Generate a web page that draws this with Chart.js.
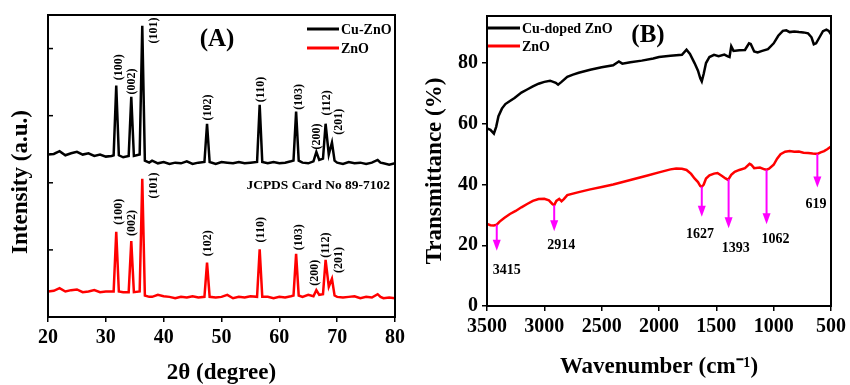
<!DOCTYPE html>
<html>
<head>
<meta charset="utf-8">
<title>XRD and FTIR of ZnO / Cu-ZnO</title>
<script src="https://cdn.jsdelivr.net/npm/chart.js@4.4.0/dist/chart.umd.min.js"></script>
<style>
  html, body { margin: 0; padding: 0; background: #fff; }
  #wrap { position: relative; width: 850px; height: 385px; overflow: hidden; }
  canvas { position: absolute; top: 0; }
  #xrdChart { left: 0; }
  #ftirChart { left: 420px; }
</style>
</head>
<body>
<div id="wrap">
  <canvas id="xrdChart" width="420" height="385"></canvas>
  <canvas id="ftirChart" width="430" height="385"></canvas>
</div>
<script>
const SERIF = "'Liberation Serif', 'Times New Roman', serif";

// ---- (A) XRD ----
const theta = [20, 21, 22, 23, 24, 25, 26, 27, 28, 29, 30, 31,
  31.35, 31.8, 32.25, 33, 33.95, 34.4, 34.85, 35.85, 36.3, 36.75, 37.5,
  38, 39, 40, 41, 42, 43, 44, 45, 46, 47.05, 47.5, 47.95,
  49, 50, 51, 52, 53, 54, 55, 56.15, 56.6, 57.05,
  58, 59, 60, 61, 62, 62.45, 62.9, 63.35, 64, 65,
  65.9, 66.4, 66.9, 67.55, 68, 68.55, 69.1, 69.55,
  70, 71, 72, 73, 74, 75, 76, 77, 77.5, 78, 79, 80];

const cuZnoIntensity = [2.42, 2.43, 2.47, 2.41, 2.44, 2.46, 2.42, 2.44, 2.40, 2.42, 2.39, 2.40,
  2.41, 3.45, 2.41, 2.38, 2.40, 3.28, 2.40, 2.42, 4.34, 2.33, 2.30,
  2.33, 2.29, 2.31, 2.28, 2.30, 2.29, 2.32, 2.28, 2.30, 2.31, 2.88, 2.31,
  2.28, 2.31, 2.30, 2.29, 2.31, 2.29, 2.30, 2.31, 3.16, 2.31,
  2.29, 2.31, 2.29, 2.30, 2.32, 2.33, 3.06, 2.33, 2.30, 2.29,
  2.32, 2.46, 2.34, 2.36, 2.88, 2.42, 2.60, 2.33,
  2.30, 2.28, 2.31, 2.29, 2.30, 2.28, 2.30, 2.34, 2.30, 2.29, 2.27, 2.29];

const znoIntensity = [0.38, 0.39, 0.43, 0.38, 0.40, 0.41, 0.37, 0.38, 0.40, 0.37, 0.38, 0.38,
  0.38, 1.27, 0.38, 0.37, 0.37, 1.13, 0.37, 0.38, 2.06, 0.32, 0.30,
  0.30, 0.33, 0.31, 0.30, 0.28, 0.30, 0.29, 0.31, 0.29, 0.30, 0.81, 0.30,
  0.29, 0.30, 0.33, 0.28, 0.30, 0.29, 0.31, 0.30, 1.01, 0.30,
  0.30, 0.28, 0.30, 0.29, 0.31, 0.32, 0.94, 0.32, 0.30, 0.33,
  0.31, 0.40, 0.33, 0.34, 0.85, 0.45, 0.57, 0.32,
  0.30, 0.29, 0.30, 0.31, 0.28, 0.30, 0.29, 0.34, 0.30, 0.28, 0.29, 0.28];

const hkl = ['(100)', '(002)', '(101)', '(102)', '(110)', '(103)', '(200)', '(112)', '(201)'];
const cuLabelX = [32.3, 34.5, 38.3, 47.7, 56.9, 63.3, 66.5, 68.3, 70.3];
const cuLabelY = [3.72, 3.51, 4.27, 3.12, 3.39, 3.28, 2.69, 3.19, 2.91];
const znoLabelX = [32.3, 34.5, 38.3, 47.7, 56.9, 63.3, 66.2, 68.1, 70.3];
const znoLabelY = [1.57, 1.40, 1.96, 1.10, 1.30, 1.19, 0.66, 1.07, 0.85];

// ---- (B) FTIR ----
const cuWave = [3500, 3470, 3440, 3420, 3400, 3370, 3340, 3300, 3260, 3200, 3150, 3100, 3050, 3000,
  2950, 2900, 2880, 2850, 2800, 2750, 2700, 2600, 2500, 2400, 2350, 2320, 2250, 2150, 2050, 2000,
  1900, 1800, 1760, 1730, 1690, 1660, 1640, 1627, 1610, 1590, 1560, 1520, 1480, 1430, 1400, 1385,
  1370, 1350, 1300, 1250, 1215, 1200, 1170, 1140, 1100, 1050, 1000, 960, 920, 890, 860, 820,
  780, 740, 700, 670, 650, 630, 600, 570, 540, 520, 500];
const cuTrans = [58.5, 58.0, 56.8, 59.0, 62.5, 65.0, 66.5, 67.5, 68.5, 70.3, 71.3, 72.3, 73.2, 73.8,
  74.2, 73.5, 72.9, 73.8, 75.5, 76.2, 76.8, 77.8, 78.6, 79.3, 80.5, 79.8, 80.3, 80.8, 81.5, 82.0,
  82.4, 82.7, 84.4, 83.0, 80.0, 77.5, 75.0, 74.0, 76.5, 80.0, 82.0, 82.7, 82.3, 82.8, 82.2, 82.0,
  85.5, 84.0, 84.2, 84.3, 86.5, 86.3, 83.8, 83.5, 84.0, 84.6, 86.5, 89.0, 90.6, 90.8, 90.2, 90.4,
  90.2, 90.1, 89.8, 88.5, 86.2, 86.5, 88.5, 90.5, 91.0, 90.6, 89.5];

const znoWave = [3500, 3470, 3440, 3415, 3390, 3350, 3300, 3250, 3200, 3150, 3100, 3050, 3000,
  2960, 2930, 2914, 2895, 2870, 2850, 2830, 2800, 2700, 2600, 2500, 2400, 2300, 2200, 2100, 2000,
  1900, 1850, 1800, 1760, 1720, 1690, 1660, 1640, 1627, 1610, 1590, 1560, 1520, 1490, 1450, 1420,
  1400, 1393, 1370, 1340, 1300, 1250, 1210, 1195, 1170, 1120, 1080, 1062, 1040, 1000, 970, 940,
  900, 860, 820, 780, 740, 700, 660, 619, 590, 560, 530, 500];
const znoTrans = [27.0, 26.6, 26.5, 26.8, 27.8, 29.0, 30.3, 31.3, 32.5, 33.6, 34.6, 35.2, 35.3,
  34.8, 33.6, 33.2, 34.6, 35.3, 34.5, 35.2, 36.5, 37.5, 38.4, 39.2, 40.0, 41.0, 42.0, 43.0, 44.0,
  45.0, 45.3, 45.2, 44.8, 43.5, 42.0, 40.8, 39.5, 39.3, 40.0, 42.0, 43.0, 43.6, 43.8, 42.8, 42.0,
  41.6, 41.8, 43.2, 44.2, 44.8, 45.4, 46.8, 46.5, 45.4, 45.6, 45.0, 44.9, 45.2, 46.5, 48.5, 50.0,
  50.8, 51.0, 50.8, 50.9, 50.5, 50.4, 50.2, 50.1, 50.6, 51.0, 51.7, 52.5];

// marked bands: arrow from the curve down to a tip, label under it
const bandWave = [3415, 2914, 1627, 1393, 1062, 619];
const bandFrom = [26.8, 33.2, 39.3, 41.8, 44.9, 50.1];
const bandTip = [18.2, 24.6, 29.4, 25.6, 26.9, 39.0];
const bandLabelX = [3327, 2852, 1642, 1331, 985, 631];
const bandLabelY = [11.8, 19.8, 23.7, 18.9, 21.8, 33.6];

function pts(xs, ys) { return xs.map((x, i) => ({ x: x, y: ys[i] })); }

// frame round the plot area, plus optional inward ticks on y
function framePlugin(inwardY) {
    return {
        id: 'frame',
        afterDraw(chart) {
            const { ctx, chartArea: a } = chart;
            ctx.save();
            ctx.strokeStyle = '#000';
            ctx.lineWidth = 2;
            ctx.strokeRect(a.left, a.top, a.right - a.left, a.bottom - a.top);
            if (inwardY) {
                const ys = chart.scales.y;
                ctx.lineWidth = 1.5;
                ys.ticks.forEach(t => {
                    if (t.value <= ys.min) return;
                    const py = ys.getPixelForValue(t.value);
                    ctx.beginPath();
                    ctx.moveTo(a.left, py);
                    ctx.lineTo(a.left + 5, py);
                    ctx.stroke();
                });
            }
            ctx.restore();
        }
    };
}

function drawLegend(chart, x, y0, gap) {
    const { ctx } = chart;
    ctx.save();
    ctx.font = 'bold 14px ' + SERIF;
    ctx.textBaseline = 'middle';
    chart.data.datasets.forEach((ds, i) => {
        const y = y0 + i * gap;
        ctx.strokeStyle = ds.borderColor;
        ctx.lineWidth = 3;
        ctx.beginPath();
        ctx.moveTo(x, y);
        ctx.lineTo(x + 32, y);
        ctx.stroke();
        ctx.fillStyle = '#000';
        ctx.fillText(ds.label, x + 34, y + 1);
    });
    ctx.restore();
}

function drawYTitle(ctx, text, x, y) {
    ctx.save();
    ctx.translate(x, y);
    ctx.rotate(-Math.PI / 2);
    ctx.font = 'bold 23px ' + SERIF;
    ctx.fillStyle = '#000';
    ctx.textAlign = 'center';
    ctx.textBaseline = 'middle';
    ctx.fillText(text, 0, 0);
    ctx.restore();
}

const xrdDecor = {
    id: 'xrdDecor',
    afterDraw(chart) {
        const { ctx, scales: { x, y } } = chart;
        ctx.save();
        ctx.fillStyle = '#000';
        ctx.font = 'bold 12px ' + SERIF;
        ctx.textAlign = 'center';
        ctx.textBaseline = 'middle';
        const put = (lx, ly) => lx.forEach((v, i) => {
            ctx.save();
            ctx.translate(x.getPixelForValue(v), y.getPixelForValue(ly[i]));
            ctx.rotate(-Math.PI / 2);
            ctx.fillText(hkl[i], 0, 0);
            ctx.restore();
        });
        put(cuLabelX, cuLabelY);
        put(znoLabelX, znoLabelY);

        ctx.font = 'bold 25px ' + SERIF;
        ctx.fillText('(A)', 217, 40);
        ctx.font = 'bold 13.5px ' + SERIF;
        ctx.textAlign = 'right';
        ctx.fillText('JCPDS Card No 89-7102', 390, 186);
        ctx.restore();

        drawLegend(chart, 307, 29, 19);
        drawYTitle(ctx, 'Intensity (a.u.)', 21, 182);
    }
};

const ftirDecor = {
    id: 'ftirDecor',
    afterDraw(chart) {
        const { ctx, scales: { x, y } } = chart;
        ctx.save();
        ctx.strokeStyle = '#ff00ff';
        ctx.fillStyle = '#ff00ff';
        ctx.lineWidth = 2;
        bandWave.forEach((w, i) => {
            const px = x.getPixelForValue(w);
            const py0 = y.getPixelForValue(bandFrom[i]);
            const tip = y.getPixelForValue(bandTip[i]);
            ctx.beginPath();
            ctx.moveTo(px, py0);
            ctx.lineTo(px, tip - 8);
            ctx.stroke();
            ctx.beginPath();
            ctx.moveTo(px - 4, tip - 11);
            ctx.lineTo(px + 4, tip - 11);
            ctx.lineTo(px, tip);
            ctx.closePath();
            ctx.fill();
        });
        ctx.fillStyle = '#000';
        ctx.font = 'bold 14px ' + SERIF;
        ctx.textAlign = 'center';
        ctx.textBaseline = 'middle';
        bandWave.forEach((w, i) => {
            ctx.fillText(String(w), x.getPixelForValue(bandLabelX[i]), y.getPixelForValue(bandLabelY[i]));
        });
        ctx.font = 'bold 25px ' + SERIF;
        ctx.fillText('(B)', 228, 36);
        ctx.restore();

        drawLegend(chart, 68, 28, 18);
        drawYTitle(ctx, 'Transmittance (%)', 15, 171);
    }
};

const tickFont = { family: SERIF, size: 20, weight: 'bold' };
const plain = v => String(v);

new Chart(document.getElementById('xrdChart'), {
    type: 'line',
    data: {
        datasets: [
            { label: 'Cu-ZnO', data: pts(theta, cuZnoIntensity), borderColor: '#000000', borderWidth: 2.5, pointRadius: 0, tension: 0 },
            { label: 'ZnO', data: pts(theta, znoIntensity), borderColor: '#ff0000', borderWidth: 2.5, pointRadius: 0, tension: 0 }
        ]
    },
    options: {
        responsive: false,
        animation: false,
        layout: { padding: { left: 0, right: 25, top: 15, bottom: 0 } },
        plugins: { legend: { display: false }, tooltip: { enabled: false } },
        scales: {
            x: {
                type: 'linear', min: 20, max: 80,
                afterFit: s => { s.height = 68; },
                ticks: { stepSize: 10, color: '#000', font: tickFont, padding: 4, maxRotation: 0, callback: plain },
                grid: { drawOnChartArea: false, tickLength: 5, color: '#000', lineWidth: 1.5 },
                border: { display: false },
                title: { display: true, text: '2θ (degree)', color: '#000', font: { family: SERIF, size: 23, weight: 'bold', lineHeight: 1 }, padding: 0 }
            },
            y: {
                type: 'linear', min: 0, max: 4.5,
                afterFit: s => { s.width = 48; },
                ticks: { display: false, stepSize: 1, includeBounds: false },
                grid: { display: false },
                border: { display: false }
            }
        }
    },
    plugins: [framePlugin(true), xrdDecor]
});

new Chart(document.getElementById('ftirChart'), {
    type: 'line',
    data: {
        datasets: [
            { label: 'Cu-doped ZnO', data: pts(cuWave, cuTrans), borderColor: '#000000', borderWidth: 2.5, pointRadius: 0, tension: 0 },
            { label: 'ZnO', data: pts(znoWave, znoTrans), borderColor: '#ff0000', borderWidth: 2.5, pointRadius: 0, tension: 0 }
        ]
    },
    options: {
        responsive: false,
        animation: false,
        layout: { padding: { left: 0, right: 16, top: 9, bottom: 0 } },
        plugins: { legend: { display: false }, tooltip: { enabled: false } },
        scales: {
            x: {
                type: 'linear', min: 500, max: 3500, reverse: true,
                afterFit: s => { s.height = 79; },
                ticks: { stepSize: 500, color: '#000', font: tickFont, padding: 4, maxRotation: 0, callback: plain },
                grid: { drawOnChartArea: false, tickLength: 5, color: '#000', lineWidth: 1.5 },
                border: { display: false },
                title: { display: true, text: 'Wavenumber (cm\u207B\u00B9)', color: '#000', font: { family: SERIF, size: 23, weight: 'bold', lineHeight: 1 }, padding: { top: 0, bottom: 6 } }
            },
            y: {
                type: 'linear', min: 0, max: 95.5,
                afterFit: s => { s.width = 67; },
                ticks: { stepSize: 20, color: '#000', font: tickFont, padding: 4, includeBounds: false, callback: plain },
                grid: { drawOnChartArea: false, tickLength: 5, color: '#000', lineWidth: 1.5 },
                border: { display: false }
            }
        }
    },
    plugins: [framePlugin(false), ftirDecor]
});
</script>
</body>
</html>
